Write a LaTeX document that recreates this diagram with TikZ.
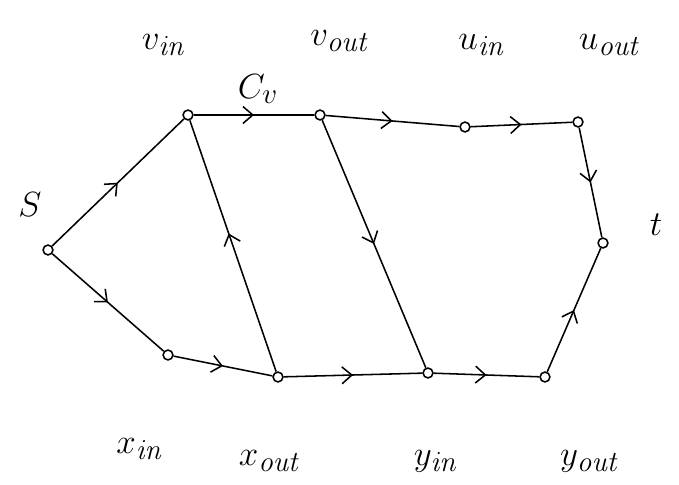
\documentclass[tikz,border=0pt]{standalone}
\usetikzlibrary{arrows.meta,decorations.markings}
\begin{document}
\begin{tikzpicture}[
    font=\Huge,
    vertex/.style={
        draw,
        circle,
        fill=white,
        inner sep=0pt,
        minimum size=7pt,
        line width=1.1pt
    },
    flow/.style={
        line width=1.1pt,
        postaction={decorate},
        decoration={markings,
            mark=at position #1 with {\arrow{Straight Barb[length=7pt,width=12pt,line width=1.1pt]}}}
    },
    flow/.default=0.5
]
\useasboundingbox (0,0) rectangle (16.975,12.125);

\node[vertex] (s) at (1.2,5.875) {};
\node[vertex] (vin) at (4.7,9.25) {};
\node[vertex] (vout) at (8.0,9.25) {};
\node[vertex] (uin) at (11.625,8.95) {};
\node[vertex] (uout) at (14.45,9.075) {};
\node[vertex] (t) at (15.075,6.05) {};
\node[vertex] (xin) at (4.2,3.25) {};
\node[vertex] (xout) at (6.95,2.7) {};
\node[vertex] (yin) at (10.7,2.8) {};
\node[vertex] (yout) at (13.625,2.7) {};

% labels
\node (slab) at (0.75,7.0) {$S$};
\node (tlab) at (16.4,6.5) {$t$};
\node (vinlab) at (4.1,11.0) {$v_{\mathit{in}}$};
\node (cvlab) at (6.45,9.9) {$C_v$};
\node (voutlab) at (8.5,11.1) {$v_{\mathit{out}}$};
\node (uinlab) at (12.05,11.0) {$u_{\mathit{in}}$};
\node (uoutlab) at (15.25,11.0) {$u_{\mathit{out}}$};
\node (xinlab) at (3.5,0.9) {$x_{\mathit{in}}$};
\node (xoutlab) at (6.75,0.6) {$x_{\mathit{out}}$};
\node (yinlab) at (10.9,0.6) {$y_{\mathit{in}}$};
\node (youtlab) at (14.75,0.6) {$y_{\mathit{out}}$};

\draw[flow] (s) -- (vin);
\draw[flow] (s) -- (xin);
\draw[flow] (vin) -- (vout);
\draw[flow] (vout) -- (uin);
\draw[flow] (uin) -- (uout);
\draw[flow] (uout) -- (t);
\draw[flow] (xin) -- (xout);
\draw[flow=0.55] (xout) -- (vin);
\draw[flow] (xout) -- (yin);
\draw[flow] (vout) -- (yin);
\draw[flow] (yin) -- (yout);
\draw[flow] (yout) -- (t);
\end{tikzpicture}
\end{document}
